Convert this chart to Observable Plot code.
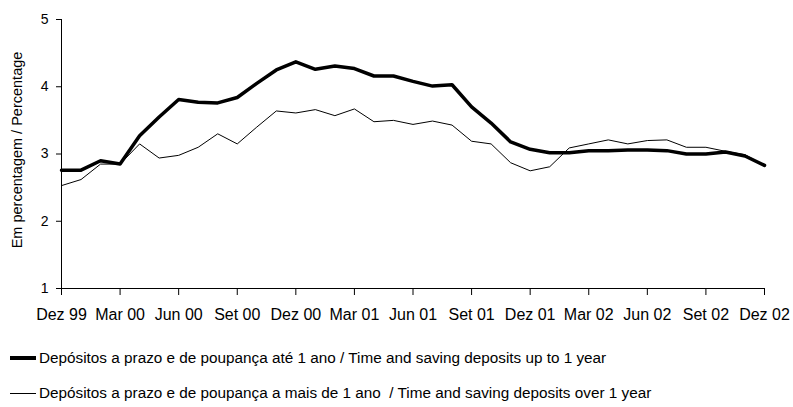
<!DOCTYPE html>
<html><head><meta charset="utf-8">
<script src="https://cdn.jsdelivr.net/npm/d3@7"></script>
<script src="https://cdn.jsdelivr.net/npm/@observablehq/plot@0.6"></script>
<style>
body{margin:0;background:#fff;font-family:"Liberation Sans",Arial,sans-serif;}
#chart{position:relative;width:793px;height:407px;}
.leg{position:absolute;left:10px;font-size:15.3px;color:#000;display:flex;align-items:center;white-space:pre;}
.sw{display:inline-block;width:26px;background:#000;margin-right:3px;}
</style></head>
<body><div id="chart"></div>
<script>
const tickLabels = ["Dez 99","Mar 00","Jun 00","Set 00","Dez 00","Mar 01","Jun 01","Set 01","Dez 01","Mar 02","Jun 02","Set 02","Dez 02"];
const upTo1Year = [2.76,2.76,2.90,2.85,3.27,3.55,3.81,3.77,3.76,3.84,4.05,4.25,4.37,4.26,4.31,4.27,4.16,4.16,4.08,4.01,4.03,3.70,3.46,3.18,3.07,3.02,3.02,3.05,3.05,3.06,3.06,3.05,3.00,3.00,3.03,2.97,2.83];
const over1Year = [2.53,2.62,2.85,2.85,3.15,2.94,2.98,3.10,3.30,3.15,3.40,3.64,3.61,3.66,3.57,3.67,3.48,3.50,3.44,3.49,3.43,3.19,3.15,2.87,2.75,2.81,3.09,3.15,3.21,3.15,3.20,3.21,3.10,3.10,3.04,2.99,2.83];
const seriesNames = ["Depósitos a prazo e de poupança até 1 ano / Time and saving deposits up to 1 year",
                     "Depósitos a prazo e de poupança a mais de 1 ano  / Time and saving deposits over 1 year"];
const yLabel = "Em percentagem / Percentage";
const yTicks = [1,2,3,4,5];

const d1 = upTo1Year.map((v,i)=>({i,v}));
const d2 = over1Year.map((v,i)=>({i,v}));
const xTicks = tickLabels.map((_,k)=>k*3);

const plot = Plot.plot({
  width: 793, height: 330,
  marginLeft: 61, marginRight: 29, marginTop: 19, marginBottom: 42,
  style: {fontFamily: '"Liberation Sans",Arial,sans-serif', fontSize: "14px", color:"#000", background:"#fff", overflow:"visible"},
  x: {domain: [0, 36], label: null},
  y: {domain: [1, 5], label: null},
  marks: [
    Plot.axisX({ticks: xTicks, tickFormat: d => tickLabels[d/3], tickSize: 7, tickPadding: 13, fontSize: 16, label: null}),
    Plot.axisY({ticks: yTicks, tickFormat: d3.format("d"), tickSize: 5, tickPadding: 8, fontSize: 14, label: null}),
    Plot.ruleX([0], {stroke: "#000", strokeWidth: 1}),
    Plot.ruleY([1], {stroke: "#000", strokeWidth: 1}),
    Plot.lineY(d2, {x: "i", y: "v", stroke: "#000", strokeWidth: 1}),
    Plot.lineY(d1, {x: "i", y: "v", stroke: "#000", strokeWidth: 3.5}),
    Plot.text([yLabel], {frameAnchor: "left", textAnchor: "middle", lineAnchor: "middle", dx: -44, dy: -4, rotate: -90, fontSize: 14.5, text: d => d})
  ]
});
const c = document.getElementById("chart");
c.appendChild(plot);
[[358,3.5,0],[393,1,1]].forEach(([y,w,k])=>{
  const d = document.createElement("div");
  d.className = "leg";
  d.style.top = (y-10)+"px";
  d.style.height = "20px";
  d.innerHTML = `<span class="sw" style="height:${w}px"></span>`;
  d.appendChild(document.createTextNode(seriesNames[k]));
  c.appendChild(d);
});
</script></body></html>
